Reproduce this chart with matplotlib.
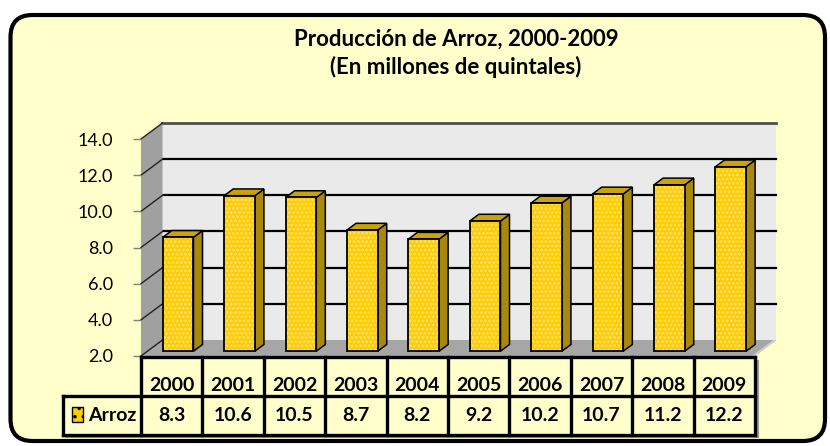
import numpy as np
import matplotlib
matplotlib.use("Agg")
import matplotlib.pyplot as plt
from matplotlib.patches import Polygon, Rectangle, FancyBboxPatch

plt.rcParams['font.family'] = ['Lato', 'DejaVu Sans']
plt.rcParams['hatch.linewidth'] = 1.3

# ---- data ----
years = ['2000', '2001', '2002', '2003', '2004', '2005', '2006', '2007', '2008', '2009']
values = [8.3, 10.6, 10.5, 8.7, 8.2, 9.2, 10.2, 10.7, 11.2, 12.2]
series_name = 'Arroz'
yticks = [2, 4, 6, 8, 10, 12, 14]
title_line1 = 'Producción de Arroz, 2000-2009'
title_line2 = '(En millones de quintales)'

# ---- styling ----
W, H = 830, 446
BG = '#FFFFCC'
FRONT = '#FFCC00'
SIDE = '#A8890A'
TOP = '#C9A20C'

fig = plt.figure(figsize=(W / 100, H / 100), dpi=100)
fig.patch.set_facecolor('white')

# background frame (pixel coordinates)
axbg = fig.add_axes([0, 0, 1, 1], zorder=0)
axbg.set_xlim(0, W)
axbg.set_ylim(H, 0)
axbg.axis('off')
axbg.add_patch(FancyBboxPatch((10.5, 15), 814.5, 426, boxstyle='round,pad=0,rounding_size=22',
                              facecolor=BG, edgecolor='black', linewidth=3.0))
axbg.text(456, 46, title_line1, ha='center', va='baseline', fontsize=16, fontweight='bold')
axbg.text(456, 74, title_line2, ha='center', va='baseline', fontsize=16, fontweight='bold')

# ---- main 3D-look bar axes ----
ymin, ymax = yticks[0], yticks[-1]
ax = fig.add_axes([141 / W, (H - 356) / H, 614 / W, 217 / H], zorder=2)
ax.set_xlim(-0.5, len(years) - 0.5)
ax.set_ylim(ymin, ymax)
ax.patch.set_alpha(0)
for s in ax.spines.values():
    s.set_visible(False)

DX, DY = 0.35, 0.885  # depth offset in data units
n = len(years)
xl, xr = -0.5, n - 0.5

# back wall
ax.add_patch(Rectangle((xl + DX, ymin + DY), n, ymax - ymin, facecolor='#EAEAEA',
                       edgecolor='none', clip_on=False, zorder=0))
# left wall
ax.add_patch(Polygon([(xl, ymin), (xl, ymax), (xl + DX, ymax + DY), (xl + DX, ymin + DY)],
                     closed=True, facecolor='#A0A0A0', edgecolor='none', clip_on=False, zorder=1))
# floor
ax.add_patch(Polygon([(xl, ymin), (xr, ymin), (xr + DX, ymin + DY), (xl + DX, ymin + DY)],
                     closed=True, facecolor='#A6A6A6', edgecolor='none', clip_on=False, zorder=1))
ax.add_patch(Polygon([(xr - 0.05, ymin), (xr, ymin), (xr + DX, ymin + DY), (xr + DX - 0.05, ymin + DY)],
                     closed=True, facecolor='#D0D0D0', edgecolor='none', clip_on=False, zorder=1.1))

# gridlines on back wall and left wall
for t in yticks:
    if ymin < t < ymax:
        ax.plot([xl + DX, xr + DX], [t + DY, t + DY], color='black', lw=1.6,
                clip_on=False, zorder=0.5)
    ax.plot([xl, xl + DX], [t, t + DY], color='#222222', lw=1.0, clip_on=False, zorder=1.5)
ax.plot([xl + DX, xr + DX], [ymax + DY, ymax + DY], color='#505050', lw=2.0,
        clip_on=False, zorder=0.6)

# bars
x = np.arange(n)
w = 0.5
f0, f1 = 0.30, 0.72
vals = np.array(values)
xc = x + f0 * DX
b0 = ymin + f0 * DY
tops = vals + f0 * DY
ddx, ddy = (f1 - f0) * DX, (f1 - f0) * DY
for xi, tp in zip(xc, tops):
    r = xi + w / 2
    l = xi - w / 2
    ax.add_patch(Polygon([(r, b0), (r, tp), (r + ddx, tp + ddy), (r + ddx, b0 + ddy)], closed=True,
                         facecolor=SIDE, edgecolor='black', lw=1.1, clip_on=False, zorder=4))
    ax.add_patch(Polygon([(l, tp), (r, tp), (r + ddx, tp + ddy), (l + ddx, tp + ddy)], closed=True,
                         facecolor=TOP, edgecolor='black', lw=1.1, clip_on=False, zorder=4))
ax.bar(xc, vals - ymin, bottom=b0, width=w, color=FRONT, edgecolor='none', lw=0, zorder=5, clip_on=False)
ax.bar(xc, vals - ymin, bottom=b0, width=w, color='none', edgecolor='#FFE27A', lw=0, hatch='....',
       zorder=5.1, clip_on=False)
ax.bar(xc, vals - ymin, bottom=b0, width=w, color='none', edgecolor='black', lw=1.3, zorder=5.2, clip_on=False)

ax.set_xticks([])
ax.set_yticks(yticks)
ax.set_yticklabels([f'{t:.1f}' for t in yticks])
ax.tick_params(axis='y', length=6, width=1, color='#7F7F7F', pad=14, labelsize=13)

# ---- data table ----
cw = 61.4
xmin_t = -0.5 - (141 - 63) / cw
axt = fig.add_axes([63 / W, (H - 435) / H, (755 - 63) / W, 78 / H], zorder=3)
axt.set_xlim(xmin_t, xr)
axt.set_ylim(0, 2)
axt.axis('off')
lk = dict(color='black', lw=2.4, clip_on=False, solid_capstyle='projecting')
sk = dict(color='#9A9A9A', lw=1.5, clip_on=False, zorder=0)
# shadow
axt.plot([xmin_t + 0.05, xr + 0.05], [-0.06, -0.06], **sk)
axt.plot([xr + 0.05, xr + 0.05], [-0.06, 1.9], **sk)
axt.plot([xl, xr], [2, 2], **lk)
axt.plot([xmin_t, xr], [1, 1], **lk)
axt.plot([xmin_t, xr], [0, 0], **lk)
axt.plot([xmin_t, xmin_t], [0, 1], **lk)
for k in range(n + 1):
    axt.plot([xl + k, xl + k], [0, 2], **lk)
for i, (yr, v) in enumerate(zip(years, values)):
    axt.text(i, 1.27, yr, ha='center', va='center', fontsize=14, fontweight='bold')
    axt.text(i, 0.5, f'{v:.1f}', ha='center', va='center', fontsize=14, fontweight='bold')
# legend key
kx = xmin_t + (72 - 63) / cw
axt.add_patch(Rectangle((kx, 0.33), 11 / cw, 0.39, facecolor=FRONT, edgecolor='black', lw=1.0,
                        hatch='..', clip_on=False))
axt.text(xmin_t + (88 - 63) / cw, 0.5, series_name, ha='left', va='center', fontsize=14, fontweight='bold')

fig.savefig('out.png', dpi=100, facecolor='white')
